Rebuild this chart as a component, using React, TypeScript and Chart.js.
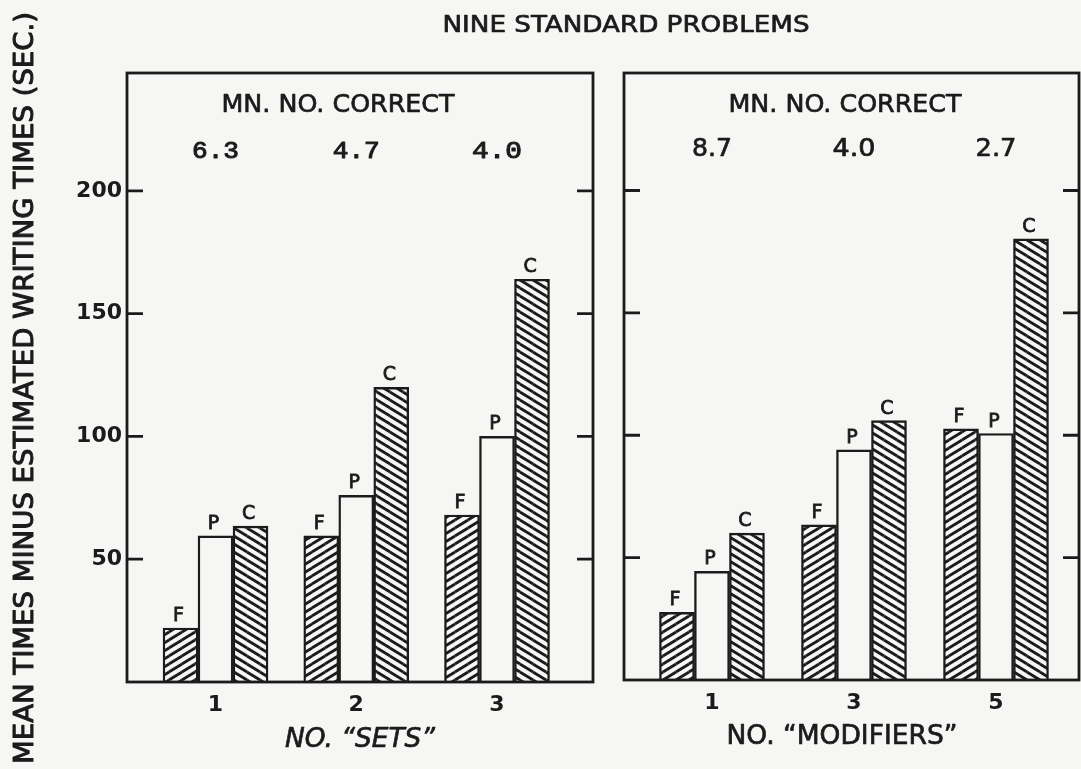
import React, { useEffect, useRef } from 'react';
import { Chart, registerables } from 'chart.js';
Chart.register(...registerables);

// ---- data ----
const setsCategories = [1, 2, 3];
const modifiersCategories = [1, 3, 5];
const seriesLabels = ['F', 'P', 'C'];
const setsF = [22, 59.5, 68];
const setsP = [59.5, 76, 100];
const setsC = [63.5, 120, 164];
const modsF = [27.6, 63.4, 102.6];
const modsP = [44.4, 94, 100.7];
const modsC = [60, 106, 180.2];
const setsCorrect = ['6.3', '4.7', '4.0'];
const modsCorrect = ['8.7', '4.0', '2.7'];
const yTicks = [50, 100, 150, 200];
const mainTitle = 'NINE STANDARD PROBLEMS';
const yTitle = 'MEAN TIMES MINUS ESTIMATED WRITING TIMES (SEC.)';
const correctTitle = 'MN. NO. CORRECT';
const setsTitle = 'NO. \u201CSETS\u201D';
const modsTitle = 'NO. \u201CMODIFIERS\u201D';

const INK = '#1b1b1b';
const PAPER = '#f6f6f4';
const SANS = '"DejaVu Sans", sans-serif';
const MONO = '"Liberation Mono", monospace';

function makeHatch(dir: 1 | -1): CanvasPattern | string {
  const w = 13, h = 8;
  const c = document.createElement('canvas');
  c.width = w; c.height = h;
  const g = c.getContext('2d');
  if (!g) return PAPER;
  g.fillStyle = PAPER;
  g.fillRect(0, 0, w, h);
  g.strokeStyle = INK;
  g.lineWidth = 2.8;
  const offs = [[0, 0], [-w, 0], [w, 0], [0, -h], [0, h]];
  for (const [ox, oy] of offs) {
    g.beginPath();
    if (dir === 1) { g.moveTo(ox, h + oy); g.lineTo(w + ox, oy); }
    else { g.moveTo(ox, oy); g.lineTo(w + ox, h + oy); }
    g.stroke();
  }
  return g.createPattern(c, 'repeat') || PAPER;
}

// draws text centred on (cx, cy) (cap-height centre), stretched to a given width, medium weight
function fitText(ctx: CanvasRenderingContext2D, text: string, cx: number, cy: number, width: number, size: number, family: string, rotate = 0, italic = false, thick = 0.7) {
  ctx.save();
  ctx.font = `${italic ? 'italic ' : ''}${size}px ${family}`;
  const m = ctx.measureText(text).width;
  ctx.translate(cx, cy);
  if (rotate) ctx.rotate(rotate);
  ctx.scale(width / m, 1);
  ctx.textAlign = 'center';
  ctx.textBaseline = 'alphabetic';
  ctx.fillStyle = INK;
  ctx.strokeStyle = INK;
  ctx.lineWidth = thick;
  ctx.lineJoin = 'round';
  ctx.fillText(text, 0, size * 0.365);
  if (thick > 0) ctx.strokeText(text, 0, size * 0.365);
  ctx.restore();
}

type PanelCfg = {
  cats: number[]; F: number[]; P: number[]; C: number[];
  correct: string[]; correctMono: boolean; correctWidths: number[]; correctY: number; correctSize: number;
  xMin: number; xMax: number; showY: boolean; yWidth: number;
  padding: { left: number; right: number; top: number; bottom: number };
  correctTitleX: number; xTitle: string; xTitleX: number; xTitleY: number; xTitleW: number; xTitleItalic: boolean;
  drawGlobal: boolean;
};

function makePanel(canvas: HTMLCanvasElement, cfg: PanelCfg) {
  const hatchF = makeHatch(1);
  const hatchC = makeHatch(-1);
  const fills = [hatchF, PAPER, hatchC];
  const values = [cfg.F, cfg.P, cfg.C];

  const decor = {
    id: 'decor',
    afterDraw(chart: any) {
      const ctx: CanvasRenderingContext2D = chart.ctx;
      const a = chart.chartArea;
      const ys = chart.scales.y;
      const xs = chart.scales.x;
      ctx.save();
      ctx.strokeStyle = INK;
      ctx.lineWidth = 2.8;
      ctx.strokeRect(a.left, a.top, a.right - a.left, a.bottom - a.top);
      for (const v of yTicks) {
        const py = ys.getPixelForValue(v);
        ctx.beginPath();
        ctx.moveTo(a.left, py); ctx.lineTo(a.left + 16, py);
        ctx.moveTo(a.right - 16, py); ctx.lineTo(a.right, py);
        ctx.stroke();
      }
      // bar letters
      chart.data.datasets.forEach((ds: any, di: number) => {
        const meta = chart.getDatasetMeta(di);
        meta.data.forEach((bar: any) => {
          ctx.font = `19px ${SANS}`;
          ctx.fillStyle = INK;
          ctx.strokeStyle = INK;
          ctx.lineWidth = 0.8;
          ctx.textAlign = 'center';
          ctx.textBaseline = 'alphabetic';
          ctx.fillText(ds.label, bar.x - 2, bar.y - 7);
          ctx.strokeText(ds.label, bar.x - 2, bar.y - 7);
        });
      });
      // MN. NO. CORRECT
      fitText(ctx, correctTitle, cfg.correctTitleX, 103, 233, 25, SANS);
      cfg.cats.forEach((c, i) => {
        const px = xs.getPixelForValue(c);
        fitText(ctx, cfg.correct[i], px, cfg.correctY, cfg.correctWidths[i], cfg.correctSize, cfg.correctMono ? MONO : SANS, 0, false, cfg.correctMono ? 1.0 : 0.7);
      });
      fitText(ctx, cfg.xTitle, cfg.xTitleX, cfg.xTitleY, cfg.xTitleW, 26, SANS, 0, cfg.xTitleItalic);
      if (cfg.drawGlobal) {
        fitText(ctx, mainTitle, 626, 23.5, 367, 23, SANS);
        fitText(ctx, yTitle, 24, 388, 752, 26, SANS, -Math.PI / 2, false, 1.0);
      }
      ctx.restore();
    },
  };

  return new Chart(canvas, {
    type: 'bar',
    data: {
      datasets: seriesLabels.map((lab, si) => ({
        label: lab,
        data: cfg.cats.map((c, i) => ({ x: c, y: values[si][i] })),
        backgroundColor: fills[si] as any,
        borderColor: INK,
        borderWidth: 2.4,
        barThickness: 35,
      })),
    },
    options: {
      animation: false,
      responsive: false,
      layout: { padding: cfg.padding },
      plugins: { legend: { display: false }, tooltip: { enabled: false }, title: { display: false } },
      scales: {
        x: {
          type: 'linear',
          offset: false,
          min: cfg.xMin,
          max: cfg.xMax,
          grid: { display: false },
          border: { display: false },
          ticks: { color: INK, font: { size: 22, family: SANS, weight: 'bold' as any }, padding: 2 },
          afterBuildTicks: (s: any) => { s.ticks = cfg.cats.map((v) => ({ value: v })); },
          afterFit: (s: any) => { s.height = 40; },
        },
        y: {
          type: 'linear',
          min: 0,
          max: 248,
          grid: { display: false, drawTicks: false },
          border: { display: false },
          ticks: { display: cfg.showY, color: INK, font: { size: 22, family: SANS, weight: 'bold' as any }, padding: 5 },
          afterBuildTicks: (s: any) => { s.ticks = yTicks.map((v) => ({ value: v })); },
          afterFit: (s: any) => { s.width = cfg.yWidth; },
        },
      },
    },
    plugins: [decor],
  });
}

export default function App() {
  const leftRef = useRef<HTMLCanvasElement>(null);
  const rightRef = useRef<HTMLCanvasElement>(null);

  useEffect(() => {
    if (!leftRef.current || !rightRef.current) return;
    const left = makePanel(leftRef.current, {
      cats: setsCategories, F: setsF, P: setsP, C: setsC,
      correct: setsCorrect, correctMono: true, correctWidths: [47, 47, 50], correctY: 150, correctSize: 23,
      xMin: 0.371, xMax: 3.682, showY: true, yWidth: 127,
      padding: { left: 0, right: 1081 - 593, top: 73, bottom: 769 - 682 - 40 },
      correctTitleX: 338, xTitle: setsTitle, xTitleX: 360, xTitleY: 737.5, xTitleW: 150, xTitleItalic: true,
      drawGlobal: true,
    });
    const right = makePanel(rightRef.current, {
      cats: modifiersCategories, F: modsF, P: modsP, C: modsC,
      correct: modsCorrect, correctMono: false, correctWidths: [40, 43, 41], correctY: 147, correctSize: 25,
      xMin: -0.239, xMax: 6.169, showY: false, yWidth: 624,
      padding: { left: 0, right: 1100 - 1079, top: 73, bottom: 769 - 680 - 40 },
      correctTitleX: 845, xTitle: modsTitle, xTitleX: 842, xTitleY: 735, xTitleW: 231, xTitleItalic: false,
      drawGlobal: false,
    });
    return () => { left.destroy(); right.destroy(); };
  }, []);

  return (
    <div style={{ position: 'fixed', left: 0, top: 0, width: 1081, height: 769, overflow: 'hidden', background: PAPER }}>
      <canvas ref={leftRef} width={1081} height={769} style={{ position: 'absolute', left: 0, top: 0, width: 1081, height: 769 }} />
      <canvas ref={rightRef} width={1100} height={769} style={{ position: 'absolute', left: 0, top: 0, width: 1100, height: 769 }} />
    </div>
  );
}
